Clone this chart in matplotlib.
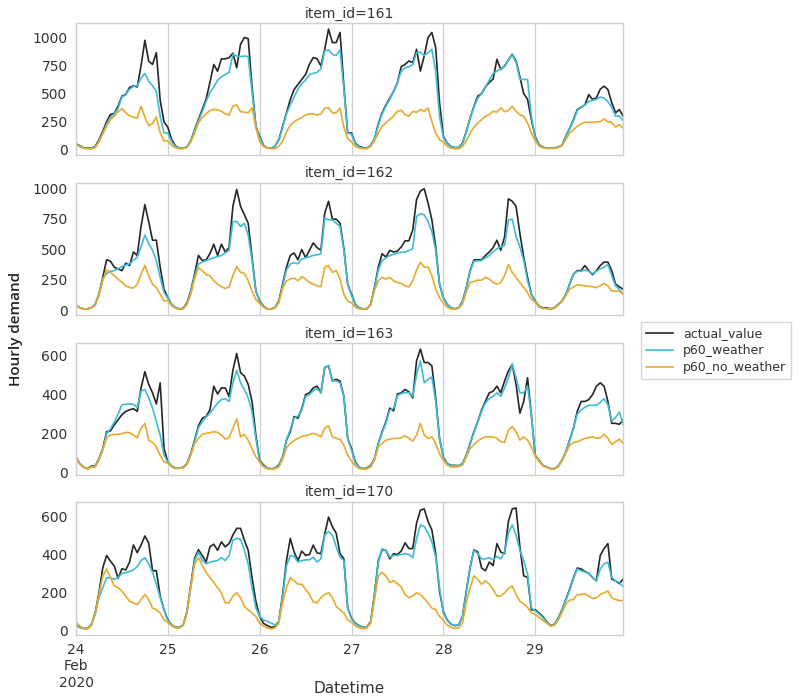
import matplotlib
matplotlib.use("Agg")
import matplotlib.pyplot as plt
from matplotlib.ticker import MultipleLocator
import pandas as pd

start = "2020-02-24 00:00"
periods = 144
day_ticks = ["2020-02-24", "2020-02-25", "2020-02-26", "2020-02-27", "2020-02-28", "2020-02-29"]
day_labels = ["24\nFeb\n2020", "25", "26", "27", "28", "29"]
items = ["161", "162", "163", "170"]
y_steps = [250, 250, 200, 200]
series_names = ["actual_value", "p60_weather", "p60_no_weather"]

# ---- item 161 ----
actual_161 = [
    54, 35, 18, 15, 15, 30, 90, 165, 250, 315, 325, 390, 478, 492, 555, 570, 560, 750, 975, 790, 760, 865, 440, 250,
    200, 90, 35, 15, 15, 25, 80, 180, 270, 360, 450, 600, 760, 700, 810, 810, 820, 860, 730, 940, 1000, 990, 560, 210,
    120, 40, 15, 15, 30, 90, 209, 328, 448, 537, 582, 627, 672, 761, 821, 812, 746, 895, 1075, 955, 955, 1045, 567, 150,
    150, 60, 30, 20, 15, 40, 100, 230, 330, 400, 460, 520, 600, 740, 761, 791, 776, 895, 701, 836, 1000, 1045, 910, 420,
    120, 60, 30, 20, 20, 60, 164, 284, 388, 478, 500, 560, 600, 630, 806, 716, 746, 800, 851, 791, 650, 500, 450, 270,
    120, 45, 24, 15, 15, 15, 25, 40, 120, 190, 269, 358, 380, 400, 492, 448, 463, 540, 567, 537, 420, 330, 358, 300,
]
weather_161 = [
    50, 30, 15, 12, 12, 25, 80, 150, 230, 290, 320, 370, 470, 490, 540, 565, 570, 640, 680, 610, 570, 520, 300, 150,
    150, 70, 30, 15, 15, 25, 80, 170, 260, 340, 430, 510, 560, 620, 650, 670, 690, 850, 835, 830, 835, 830, 520, 210,
    110, 35, 15, 15, 30, 85, 200, 320, 400, 470, 540, 590, 620, 670, 680, 690, 720, 880, 890, 850, 840, 890, 540, 150,
    140, 55, 25, 15, 15, 40, 100, 220, 320, 390, 450, 520, 600, 700, 730, 740, 760, 866, 870, 840, 866, 895, 700, 300,
    110, 55, 28, 20, 20, 55, 160, 280, 380, 460, 500, 560, 620, 680, 700, 720, 740, 800, 845, 780, 627, 627, 627, 300,
    110, 40, 22, 15, 15, 15, 25, 40, 115, 190, 260, 350, 380, 400, 430, 440, 450, 470, 460, 430, 380, 300, 300, 260,
]
noweather_161 = [
    45, 28, 15, 10, 10, 20, 70, 140, 210, 270, 300, 340, 367, 328, 304, 290, 284, 388, 290, 215, 233, 292, 150, 80,
    80, 40, 18, 10, 10, 20, 70, 150, 240, 290, 320, 350, 360, 355, 345, 320, 310, 390, 400, 340, 335, 330, 375, 200,
    70, 30, 15, 10, 10, 30, 80, 160, 220, 250, 270, 290, 310, 320, 320, 310, 320, 370, 375, 330, 330, 370, 200, 100,
    70, 30, 15, 10, 10, 30, 80, 150, 210, 240, 270, 300, 343, 352, 313, 300, 343, 334, 358, 343, 373, 250, 150, 90,
    70, 30, 15, 10, 10, 30, 80, 150, 200, 239, 270, 300, 313, 343, 335, 373, 340, 350, 388, 343, 313, 298, 239, 150,
    80, 35, 18, 12, 12, 12, 20, 35, 90, 150, 180, 209, 230, 245, 245, 245, 250, 250, 275, 250, 245, 203, 224, 194,
]

# ---- item 162 ----
actual_162 = [
    42, 20, 11, 11, 20, 47, 131, 270, 414, 403, 353, 339, 325, 386, 367, 478, 450, 687, 867, 728, 575, 575, 353, 172,
    103, 47, 20, 11, 15, 61, 158, 297, 450, 408, 414, 464, 542, 450, 542, 478, 514, 853, 992, 853, 784, 714, 436, 158,
    75, 33, 11, 11, 20, 75, 214, 353, 450, 470, 414, 498, 431, 492, 553, 514, 492, 798, 895, 748, 748, 714, 506, 214,
    131, 47, 20, 11, 11, 47, 186, 353, 464, 436, 492, 478, 486, 520, 570, 570, 659, 909, 979, 998, 881, 742, 520, 214,
    103, 47, 20, 11, 20, 75, 186, 325, 414, 414, 414, 450, 478, 514, 575, 492, 603, 915, 895, 853, 631, 436, 270, 131,
    75, 33, 20, 20, 11, 20, 47, 75, 131, 214, 297, 325, 325, 367, 325, 292, 325, 367, 395, 395, 325, 214, 192, 172,
]
weather_162 = [
    42, 20, 11, 11, 20, 45, 130, 260, 300, 320, 325, 340, 359, 370, 381, 408, 436, 520, 617, 548, 492, 408, 270, 145,
    100, 45, 20, 11, 15, 55, 150, 280, 381, 395, 408, 420, 431, 440, 450, 470, 492, 728, 728, 687, 714, 617, 408, 158,
    70, 30, 11, 11, 20, 70, 200, 330, 381, 390, 381, 420, 431, 440, 450, 455, 464, 756, 742, 742, 714, 687, 492, 214,
    120, 45, 20, 11, 11, 45, 180, 330, 408, 430, 450, 460, 470, 475, 478, 490, 506, 770, 792, 784, 728, 645, 492, 214,
    100, 45, 20, 11, 20, 75, 180, 320, 403, 405, 408, 430, 450, 480, 506, 520, 534, 742, 748, 603, 520, 408, 242, 131,
    70, 30, 15, 15, 11, 18, 45, 75, 130, 214, 297, 320, 320, 330, 320, 300, 320, 340, 353, 375, 284, 200, 170, 131,
]
noweather_162 = [
    40, 18, 10, 10, 18, 40, 120, 242, 330, 311, 284, 256, 228, 200, 186, 181, 214, 297, 367, 284, 214, 186, 131, 75,
    80, 35, 15, 10, 12, 45, 130, 260, 347, 325, 292, 284, 242, 214, 192, 178, 192, 284, 359, 311, 303, 242, 158, 89,
    55, 25, 10, 10, 18, 60, 180, 242, 256, 264, 242, 275, 256, 228, 214, 200, 192, 353, 367, 311, 325, 256, 131, 75,
    60, 25, 10, 10, 15, 45, 160, 242, 270, 256, 270, 242, 228, 220, 200, 192, 242, 330, 395, 353, 353, 284, 172, 103,
    55, 25, 10, 10, 15, 50, 150, 228, 236, 247, 247, 270, 256, 228, 214, 228, 284, 375, 311, 270, 228, 186, 145, 89,
    65, 28, 14, 12, 11, 16, 40, 70, 120, 172, 190, 208, 205, 200, 196, 192, 186, 200, 220, 200, 158, 158, 155, 131,
]

# ---- item 163 ----
actual_163 = [
    81, 47, 29, 21, 34, 34, 72, 124, 210, 214, 245, 271, 297, 314, 322, 328, 314, 434, 517, 452, 409, 352, 460, 124,
    55, 34, 24, 24, 28, 47, 98, 167, 240, 279, 288, 322, 443, 403, 434, 434, 391, 524, 610, 512, 495, 452, 365, 193,
    64, 40, 24, 20, 24, 40, 81, 167, 210, 288, 279, 328, 400, 409, 434, 443, 409, 538, 547, 469, 478, 469, 391, 176,
    124, 55, 29, 21, 24, 38, 72, 150, 210, 262, 331, 317, 403, 409, 426, 414, 383, 572, 633, 564, 564, 547, 383, 176,
    81, 47, 38, 38, 36, 47, 90, 150, 210, 262, 322, 365, 409, 417, 443, 409, 469, 521, 555, 452, 305, 365, 486, 297,
    90, 64, 38, 29, 21, 21, 34, 64, 107, 167, 228, 314, 365, 365, 374, 400, 443, 460, 443, 365, 253, 253, 248, 271,
]
weather_163 = [
    80, 45, 28, 21, 30, 32, 70, 120, 200, 225, 260, 300, 348, 350, 352, 350, 334, 417, 426, 383, 331, 262, 193, 90,
    55, 33, 24, 24, 28, 45, 95, 160, 230, 262, 285, 305, 330, 357, 374, 379, 365, 460, 524, 460, 426, 383, 314, 176,
    60, 35, 24, 20, 24, 35, 81, 170, 220, 280, 290, 320, 390, 400, 420, 430, 410, 535, 550, 470, 470, 460, 390, 176,
    115, 50, 28, 20, 22, 36, 70, 150, 205, 255, 320, 330, 395, 405, 410, 410, 390, 503, 572, 460, 478, 490, 365, 176,
    78, 45, 36, 36, 38, 47, 88, 148, 205, 260, 315, 357, 380, 391, 409, 391, 434, 486, 555, 486, 409, 409, 443, 297,
    88, 62, 38, 29, 21, 21, 34, 64, 107, 167, 228, 300, 322, 335, 345, 345, 345, 360, 379, 348, 265, 283, 310, 245,
]
noweather_163 = [
    78, 45, 27, 20, 28, 30, 65, 115, 180, 193, 197, 197, 200, 207, 205, 193, 179, 228, 253, 167, 155, 133, 90, 55,
    50, 30, 22, 22, 26, 42, 90, 150, 176, 197, 202, 205, 210, 207, 193, 172, 179, 228, 276, 184, 197, 167, 124, 81,
    55, 30, 20, 18, 20, 30, 70, 130, 150, 165, 176, 185, 190, 195, 202, 195, 184, 228, 241, 184, 176, 172, 141, 90,
    60, 35, 22, 18, 20, 30, 65, 133, 150, 167, 172, 176, 176, 179, 190, 176, 162, 193, 253, 193, 176, 184, 150, 98,
    65, 40, 30, 30, 32, 40, 80, 124, 145, 162, 175, 184, 184, 184, 176, 159, 155, 219, 236, 210, 167, 184, 167, 133,
    85, 58, 36, 27, 20, 20, 30, 60, 100, 140, 155, 159, 168, 176, 180, 184, 176, 179, 197, 176, 145, 159, 172, 150,
]

# ---- item 170 ----
actual_170 = [
    30, 18, 12, 12, 30, 93, 200, 330, 395, 365, 340, 275, 325, 319, 360, 450, 410, 449, 497, 460, 315, 315, 182, 110,
    57, 30, 18, 18, 30, 101, 240, 380, 425, 395, 360, 440, 454, 422, 466, 440, 457, 502, 537, 537, 475, 422, 279, 155,
    75, 39, 27, 18, 21, 48, 190, 368, 484, 413, 368, 418, 395, 400, 449, 408, 404, 507, 596, 546, 511, 404, 377, 119,
    66, 39, 27, 18, 18, 48, 190, 368, 425, 422, 377, 404, 400, 418, 461, 431, 431, 564, 632, 639, 573, 529, 404, 208,
    101, 57, 34, 27, 30, 75, 208, 333, 425, 413, 329, 315, 360, 342, 457, 413, 404, 573, 639, 644, 440, 288, 280, 110,
    110, 93, 75, 48, 27, 34, 66, 110, 164, 217, 279, 329, 324, 311, 301, 279, 262, 395, 431, 457, 271, 262, 247, 271,
]
weather_170 = [
    28, 17, 12, 12, 28, 85, 173, 226, 279, 276, 270, 279, 301, 305, 311, 320, 336, 368, 383, 351, 306, 244, 173, 110,
    55, 28, 18, 18, 28, 95, 230, 370, 413, 368, 351, 360, 365, 368, 383, 368, 395, 475, 484, 479, 422, 351, 226, 120,
    75, 57, 50, 40, 30, 50, 180, 340, 395, 390, 360, 368, 372, 372, 386, 360, 377, 502, 520, 502, 440, 386, 368, 119,
    62, 37, 25, 18, 18, 45, 185, 360, 431, 422, 386, 395, 395, 400, 404, 400, 383, 484, 555, 546, 511, 466, 386, 226,
    95, 55, 34, 27, 30, 72, 200, 330, 422, 404, 377, 377, 383, 372, 390, 377, 413, 511, 555, 502, 422, 368, 297, 119,
    105, 88, 70, 45, 27, 34, 64, 108, 160, 212, 275, 324, 315, 308, 301, 279, 262, 324, 351, 360, 279, 262, 253, 230,
]
noweather_170 = [
    45, 25, 12, 10, 28, 90, 190, 288, 324, 279, 235, 226, 208, 182, 155, 146, 137, 164, 190, 164, 119, 110, 93, 57,
    45, 25, 15, 15, 28, 95, 230, 350, 383, 342, 306, 279, 253, 226, 199, 146, 146, 182, 199, 173, 128, 110, 93, 75,
    40, 25, 15, 10, 15, 40, 150, 226, 279, 262, 244, 244, 217, 190, 151, 146, 173, 190, 199, 173, 128, 110, 93, 57,
    45, 25, 15, 12, 15, 40, 160, 288, 306, 288, 253, 262, 247, 230, 190, 173, 182, 199, 190, 169, 146, 119, 110, 75,
    55, 30, 18, 12, 15, 40, 150, 226, 288, 270, 244, 262, 244, 217, 182, 182, 199, 222, 235, 190, 155, 141, 123, 93,
    85, 70, 55, 40, 24, 28, 55, 95, 140, 160, 164, 190, 190, 194, 182, 169, 173, 190, 199, 208, 173, 164, 158, 158,
]

data = {
    "161": [actual_161, weather_161, noweather_161],
    "162": [actual_162, weather_162, noweather_162],
    "163": [actual_163, weather_163, noweather_163],
    "170": [actual_170, weather_170, noweather_170],
}
colors = ["#262626", "#3dbdd6", "#eaa92d"]

times = pd.date_range(start, periods=periods, freq="h")

fig = plt.figure(figsize=(8, 7), dpi=100)
panel_boxes = [(0.779, 0.967), (0.550, 0.739), (0.321, 0.510), (0.093, 0.283)]
left, right = 0.095, 0.779
handles = []
for i, (item, (b, t)) in enumerate(zip(items, panel_boxes)):
    ax = fig.add_axes([left, b, right - left, t - b])
    for vals, col, name in zip(data[item], colors, series_names):
        ln, = ax.plot(times, vals, color=col, lw=1.2, label=name)
        if i == 0:
            handles.append(ln)
    ax.set_xlim(times[0], times[-1])
    ax.yaxis.set_major_locator(MultipleLocator(y_steps[i]))
    ax.set_title(f"item_id={item}", fontsize=10, color="#333333", pad=4)
    ax.set_xticks(pd.to_datetime(day_ticks))
    if i == len(items) - 1:
        ax.set_xticklabels(day_labels)
    else:
        ax.set_xticklabels([])
    ax.grid(axis="x", color="#d0d0d0", lw=0.9)
    ax.grid(axis="y", visible=False)
    ax.tick_params(length=0, labelsize=10, colors="#333333", pad=6)
    for s in ax.spines.values():
        s.set_color("#cfcfcf")
        s.set_linewidth(1.0)

fig.text(0.02, 0.53, "Hourly demand", rotation=90, va="center", ha="center",
         fontsize=11, color="#222222", family="Open Sans", weight="semibold")
fig.text((left + right) / 2, 0.017, "Datetime", ha="center", va="center",
         fontsize=11, color="#333333")

leg = fig.legend(handles, series_names, loc="center left", bbox_to_anchor=(0.801, 0.499),
                 fontsize=9, frameon=True, fancybox=False, handlelength=2.2,
                 borderaxespad=0.0, borderpad=0.4, labelspacing=0.3)
leg.get_frame().set_edgecolor("#cccccc")
for txt in leg.get_texts():
    txt.set_color("#333333")

fig.savefig("out.png", dpi=100)
